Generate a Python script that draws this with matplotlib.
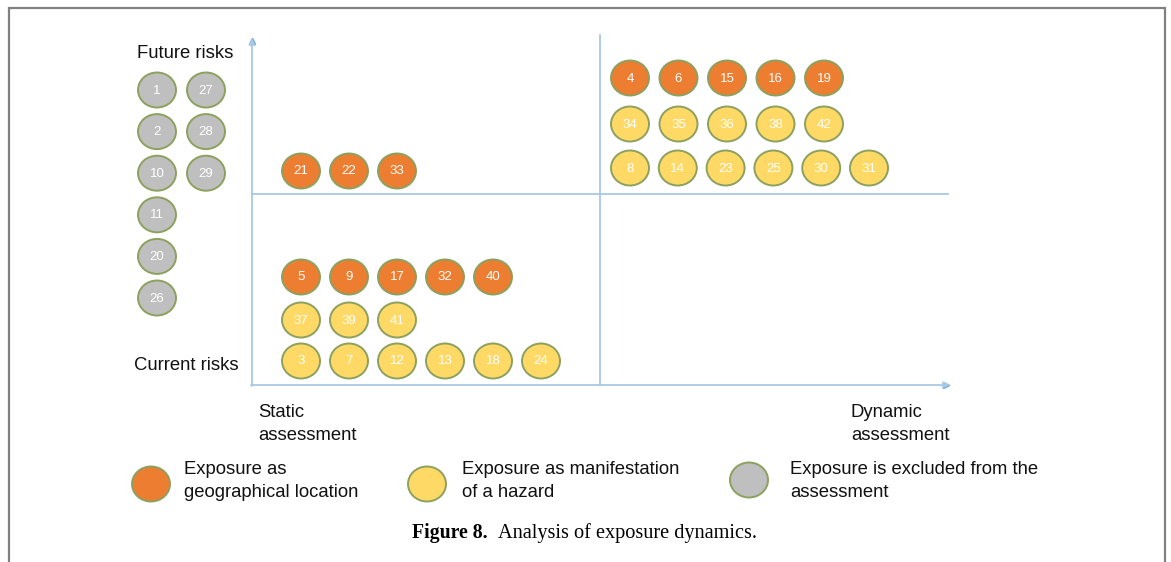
#!/usr/bin/env python3
# -*- coding: utf-8 -*-

import matplotlib
matplotlib.use('Agg')
import matplotlib.pyplot as plt
from matplotlib.patches import Ellipse

#------------------------------------------------------------------------------
# Data
#------------------------------------------------------------------------------
excluded_column_1            = [1, 2, 10, 11, 20, 26]
excluded_column_2            = [27, 28, 29]
future_static_location       = [21, 22, 33]
future_dynamic_location      = [4, 6, 15, 16, 19]
future_dynamic_hazard_upper  = [34, 35, 36, 38, 42]
future_dynamic_hazard_lower  = [8, 14, 23, 25, 30, 31]
current_static_location      = [5, 9, 17, 32, 40]
current_static_hazard_upper  = [37, 39, 41]
current_static_hazard_lower  = [3, 7, 12, 13, 18, 24]

legend_labels = ['Exposure as\ngeographical location',
                 'Exposure as manifestation\nof a hazard',
                 'Exposure is excluded from the\nassessment']

# Colors
color_location = '#ED7D31'
color_hazard   = '#FFD966'
color_excluded = '#BFBFBF'
color_edge     = '#8CA15E'
color_axis     = '#A8C8E8'
color_arrow    = '#5B9BD5'

#------------------------------------------------------------------------------
# Main
#------------------------------------------------------------------------------
def main():

  # Make new window
  fig = plt.figure(figsize = (11.71, 5.62), dpi = 100)
  ax = fig.add_axes([0, 0, 1, 1])
  ax.set_xlim(0, 1171)
  ax.set_ylim(562, 0)
  ax.axis('off')

  # Draw frame and axes
  draw_frame(ax)
  draw_axes(ax)

  # Draw circles
  draw_circles(ax)

  # Draw texts
  draw_texts(ax)

  # Draw legend
  draw_legend(ax)

  # Save figure
  fig.savefig('out.png', dpi = 100)

  # Close figure
  plt.close()
#------------------------------------------------------------------------------

#------------------------------------------------------------------------------
# Draw frame
#------------------------------------------------------------------------------
def draw_frame(ax):

  ax.plot([9, 9, 1165, 1165], [562, 8, 8, 562], color = '#808080', \
          linewidth = 1.6, solid_joinstyle = 'miter')
#------------------------------------------------------------------------------

#------------------------------------------------------------------------------
# Draw axes
#------------------------------------------------------------------------------
def draw_axes(ax):

  # Arrows
  arrow = dict(arrowstyle = '-|>', color = color_axis, linewidth = 1.3, \
               mutation_scale = 9, shrinkA = 0, shrinkB = 0)
  ax.annotate('', xy = (252, 38), xytext = (252, 386), arrowprops = arrow)
  ax.annotate('', xy = (950, 385), xytext = (251, 385), arrowprops = arrow)

  # Arrow heads
  ax.plot([252], [41], marker = '^', markersize = 4.5, color = color_arrow)
  ax.plot([946], [385], marker = '>', markersize = 4.5, color = color_arrow)

  # Dividers
  ax.plot([252, 948], [194, 194], color = color_axis, linewidth = 1.3)
  ax.plot([600, 600], [35, 385], color = color_axis, linewidth = 1.3)
#------------------------------------------------------------------------------

#------------------------------------------------------------------------------
# Draw one ellipse
#------------------------------------------------------------------------------
def draw_ellipse(ax, x, y, color, label = None):

  ax.add_patch(Ellipse((x, y), 38, 35, facecolor = color, \
                       edgecolor = color_edge, linewidth = 1.4))
  if label is not None:
    ax.text(x, y + 0.5, str(label), color = 'white', fontsize = 9.5, \
            ha = 'center', va = 'center', family = 'Liberation Sans')
#------------------------------------------------------------------------------

#------------------------------------------------------------------------------
# Draw circles
#------------------------------------------------------------------------------
def draw_circles(ax):

  # Rows: ids, color, first x, y, step
  rows = [(future_static_location,      color_location, 301, 171, 48),
          (future_dynamic_location,     color_location, 630,  78, 48.5),
          (future_dynamic_hazard_upper, color_hazard,   630, 124, 48.5),
          (future_dynamic_hazard_lower, color_hazard,   630, 168, 47.8),
          (current_static_location,     color_location, 301, 277, 48),
          (current_static_hazard_upper, color_hazard,   301, 320, 48),
          (current_static_hazard_lower, color_hazard,   301, 361, 48)]

  for ids, color, x0, y, step in rows:
    for counter, label in enumerate(ids):
      draw_ellipse(ax, x0 + counter * step, y, color, label)

  # Excluded columns
  for counter, label in enumerate(excluded_column_1):
    draw_ellipse(ax, 157, 90 + counter * 41.6, color_excluded, label)
  for counter, label in enumerate(excluded_column_2):
    draw_ellipse(ax, 206, 90 + counter * 41.6, color_excluded, label)
#------------------------------------------------------------------------------

#------------------------------------------------------------------------------
# Draw texts
#------------------------------------------------------------------------------
def draw_texts(ax):

  font = dict(family = 'Liberation Sans', fontsize = 13.3, color = '#111111')

  ax.text(137, 54, 'Future risks', ha = 'left', va = 'center', **font)
  ax.text(134, 366, 'Current risks', ha = 'left', va = 'center', **font)
  ax.text(258, 424, 'Static\nassessment', ha = 'left', va = 'center', \
          linespacing = 1.4, **font)
  ax.text(851, 424, 'Dynamic\nassessment', ha = 'left', va = 'center', \
          linespacing = 1.4, **font)

  # Caption
  ax.text(412, 533, 'Figure 8.', ha = 'left', va = 'center', \
          family = 'Liberation Serif', fontsize = 14.2, weight = 'bold')
  ax.text(498, 533, 'Analysis of exposure dynamics.', ha = 'left', \
          va = 'center', family = 'Liberation Serif', fontsize = 14.6)
#------------------------------------------------------------------------------

#------------------------------------------------------------------------------
# Draw legend
#------------------------------------------------------------------------------
def draw_legend(ax):

  font = dict(family = 'Liberation Sans', fontsize = 13.3, color = '#111111')

  items = [(color_location, 151, 484, 184),
           (color_hazard,   427, 484, 462),
           (color_excluded, 749, 480, 790)]

  for (color, x, y, text_x), label in zip(items, legend_labels):
    draw_ellipse(ax, x, y, color)
    ax.text(text_x, 481, label, ha = 'left', va = 'center', \
            linespacing = 1.4, **font)
#------------------------------------------------------------------------------

#------------------------------------------------------------------------------
# Call main
#------------------------------------------------------------------------------
if __name__ == '__main__':
  main()
#------------------------------------------------------------------------------
